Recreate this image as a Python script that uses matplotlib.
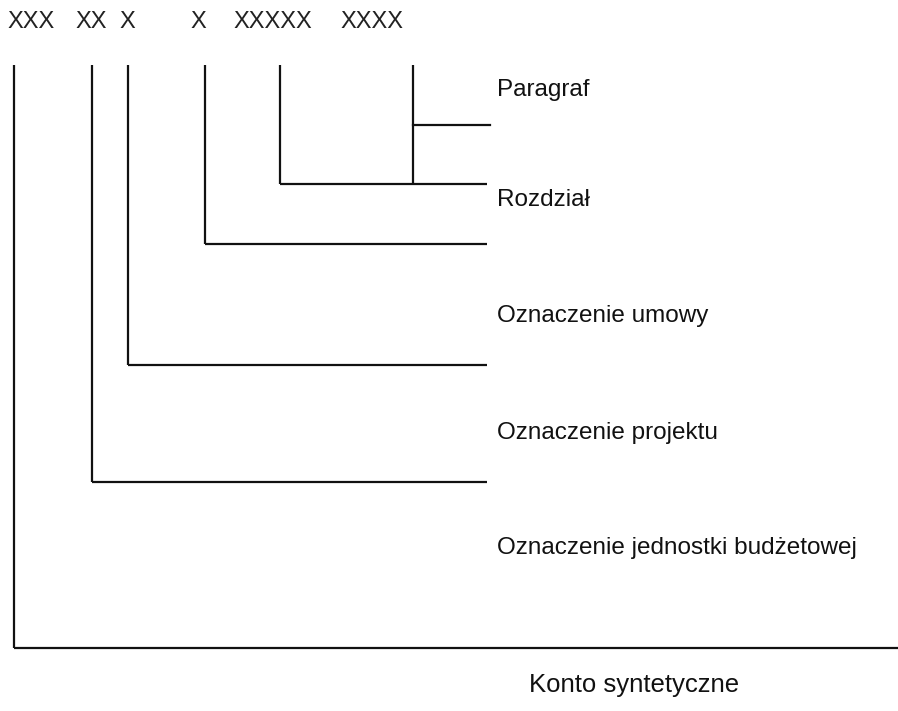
import matplotlib
matplotlib.use("Agg")
import matplotlib.pyplot as plt

# code segments along the top
codes = ["XXX", "XX", "X", "X", "XXXXX", "XXXX"]
code_x = [31, 91, 127, 198, 273, 372]
code_y = 22

# vertical legs (x, bottom end) and the horizontal they turn into
leg_x = [14, 92, 128, 205, 280, 413]
leg_bottom = [648, 482, 365, 244, 184, 184]
leg_right = [898, 487, 487, 487, 487, 413]
top_y = 65

# extra branch for Paragraf
branch_y = 125
branch_x = [413, 490]

labels = ["Paragraf", "Rozdział", "Oznaczenie umowy", "Oznaczenie projektu",
          "Oznaczenie jednostki budżetowej"]
label_y = [90, 200, 316, 433, 548]
label_x = 497

bottom_label = "Konto syntetyczne"
bottom_label_x = 634
bottom_label_y = 685

plt.rcParams['font.family'] = ['Liberation Sans', 'DejaVu Sans']

fig = plt.figure(figsize=(8.98, 7.11), dpi=100)
ax = fig.add_axes([0, 0, 1, 1])
ax.set_xlim(0, 898)
ax.set_ylim(711, 0)
ax.axis('off')

lw = 1.6
for x, yb, xr in zip(leg_x, leg_bottom, leg_right):
    ax.plot([x, x], [top_y, yb], color='#111111', lw=lw, solid_capstyle='butt')
    ax.plot([x, xr], [yb, yb], color='#111111', lw=lw, solid_capstyle='butt')
ax.plot(branch_x, [branch_y, branch_y], color='#111111', lw=lw)

for t, x in zip(codes, code_x):
    ax.text(x, code_y, t, ha='center', va='center', fontsize=17, color='#222222')

for t, y in zip(labels, label_y):
    ax.text(label_x, y, t, ha='left', va='center', fontsize=17.5, color='#111111')

ax.text(bottom_label_x, bottom_label_y, bottom_label, ha='center', va='center',
        fontsize=18.5, color='#111111')

fig.savefig("out.png", dpi=100)
